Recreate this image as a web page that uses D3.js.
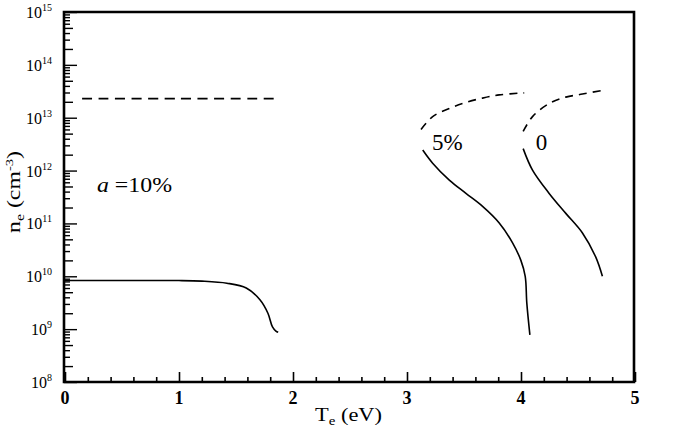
<!DOCTYPE html>
<html><head><meta charset="utf-8">
<script src="https://cdn.jsdelivr.net/npm/d3@7"></script>
<style>body{margin:0;background:#fff}svg{display:block}text{font-family:"Liberation Serif","Times New Roman",serif;fill:#000}</style>
</head><body>
<svg id="c" width="690" height="430"></svg>
<script>
// ---- data ----
const xTicks = [0, 1, 2, 3, 4, 5];
const yDecades = [8, 9, 10, 11, 12, 13, 14, 15];
// a = 10%
const dash10T = [0.15, 1.0, 1.86];
const dash10N = [2.3e13, 2.3e13, 2.3e13];
const solid10T = [0, 0.5, 1.0, 1.2, 1.42, 1.59, 1.71, 1.78, 1.82, 1.85, 1.87];
const solid10N = [8.3e9, 8.3e9, 8.3e9, 8.1e9, 7.4e9, 6.0e9, 3.6e9, 2.0e9, 1.1e9, 9.2e8, 8.7e8];
// a = 5%
const dash5T = [3.123, 3.225, 3.371, 3.517, 3.663, 3.809, 4.028];
const dash5N = [6.0e12, 1.05e13, 1.5e13, 1.95e13, 2.35e13, 2.7e13, 2.95e13];
const solid5T = [3.138, 3.225, 3.371, 3.517, 3.663, 3.809, 3.926, 3.999, 4.037, 4.051, 4.078];
const solid5N = [2.45e12, 1.38e12, 6.6e11, 3.7e11, 2.1e11, 1.02e11, 4.3e10, 2.0e10, 1.0e10, 3.1e9, 7.8e8];
// a = 0
const dash0T = [4.019, 4.101, 4.247, 4.393, 4.539, 4.699];
const dash0N = [5.5e12, 1.05e13, 1.86e13, 2.45e13, 2.8e13, 3.25e13];
const solid0T = [4.019, 4.101, 4.247, 4.393, 4.539, 4.656, 4.714];
const solid0N = [2.6e12, 1.02e12, 3.7e11, 1.55e11, 6.6e10, 2.3e10, 1.0e10];

const curveLabels = [
  {t: 3.22, n: 2.45e12, text: "5%"},
  {t: 4.13, n: 2.45e12, text: "0"}
];

// ---- chart ----
const svg = d3.select("#c");
const L = 64, R = 634, T = 12, B = 382;
const x = d3.scaleLinear().domain([0, 5]).range([65, 635]);
const y = d3.scaleLog().domain([1e8, 1e15]).range([B, T]);

// x ticks (inward)
const xMinor = d3.range(0, 5.0001, 0.2).filter(v => Math.abs(v - Math.round(v)) > 1e-6);
function xAxis(vals, size) {
  const g = svg.append("g").attr("transform", `translate(0,${B})`)
    .call(d3.axisBottom(x).tickValues(vals).tickSize(-size).tickFormat(""));
  g.select(".domain").remove();
  g.selectAll("line").attr("stroke", "#000").attr("stroke-width", 1.6);
}
xAxis(xTicks, 10);
xAxis(xMinor, 5);

// y ticks (inward)
const yMajor = yDecades.map(d => Math.pow(10, d));
const yMid = [], ySmall = [];
yDecades.slice(0, -1).forEach(d => {
  for (let m = 2; m <= 9; m++) {
    const v = m * Math.pow(10, d);
    if (m === 2 || m === 5) yMid.push(v); else ySmall.push(v);
  }
});
function yAxis(vals, size) {
  const g = svg.append("g").attr("transform", `translate(${L},0)`)
    .call(d3.axisLeft(y).tickValues(vals).tickSize(-size).tickFormat(""));
  g.select(".domain").remove();
  g.selectAll("line").attr("stroke", "#000").attr("stroke-width", 1.4);
}
yAxis(yMajor, 13);
yAxis(yMid, 9);
yAxis(ySmall, 6);

// frame
svg.append("path")
  .attr("d", `M${L},${B}V${T}H${R}V${B}Z`)
  .attr("fill", "none").attr("stroke", "#000").attr("stroke-width", 2.6);

// x tick labels
svg.selectAll(".xl").data(xTicks).enter().append("text")
  .attr("x", d => x(d)).attr("y", 404)
  .attr("text-anchor", "middle").attr("font-size", 18).attr("font-weight", "bold")
  .text(d => d);

// y tick labels 10^n
yDecades.forEach(d => {
  const t = svg.append("text")
    .attr("x", 52).attr("y", y(Math.pow(10, d)) + 6)
    .attr("text-anchor", "end").attr("font-size", 16);
  t.append("tspan").text("10");
  t.append("tspan").attr("font-size", 10).attr("dy", -7).text(d);
});

// axis titles
const xt = svg.append("text").attr("x", 315).attr("y", 421)
  .attr("font-size", 18).attr("textLength", 67).attr("lengthAdjust", "spacingAndGlyphs");
xt.append("tspan").text("T");
xt.append("tspan").attr("font-size", 12).attr("dy", 4).text("e");
xt.append("tspan").attr("dy", -4).text(" (eV)");

const yt = svg.append("text").attr("transform", "translate(20,233) rotate(-90)")
  .attr("font-size", 18).attr("textLength", 82).attr("lengthAdjust", "spacingAndGlyphs");
yt.append("tspan").text("n");
yt.append("tspan").attr("font-size", 12).attr("dy", 4).text("e");
yt.append("tspan").attr("dy", -4).text(" (cm");
yt.append("tspan").attr("font-size", 11).attr("dy", -7).text("-3");
yt.append("tspan").attr("dy", 7).text(")");

// curves
const line = d3.line().x(d => x(d[0])).y(d => y(d[1])).curve(d3.curveCatmullRom.alpha(0.5));
function curve(ts, ns, dashed, dash) {
  svg.append("path")
    .attr("d", line(ts.map((t, i) => [t, ns[i]])))
    .attr("fill", "none").attr("stroke", "#000").attr("stroke-width", 1.6)
    .attr("stroke-dasharray", dashed ? dash : null);
}
curve(dash10T, dash10N, true, "10 6.5");
curve(solid10T, solid10N, false);
curve(dash5T, dash5N, true, "8 6");
curve(solid5T, solid5N, false);
curve(dash0T, dash0N, true, "8 6");
curve(solid0T, solid0N, false);

// curve labels
curveLabels.forEach(l => {
  svg.append("text").attr("x", x(l.t)).attr("y", y(l.n))
    .attr("font-size", 23).text(l.text);
});
const al = svg.append("text").attr("x", 97).attr("y", 192).attr("font-size", 20)
  .attr("textLength", 75).attr("lengthAdjust", "spacingAndGlyphs");
al.append("tspan").attr("font-style", "italic").text("a");
al.append("tspan").text(" =10%");
</script>
</body></html>
